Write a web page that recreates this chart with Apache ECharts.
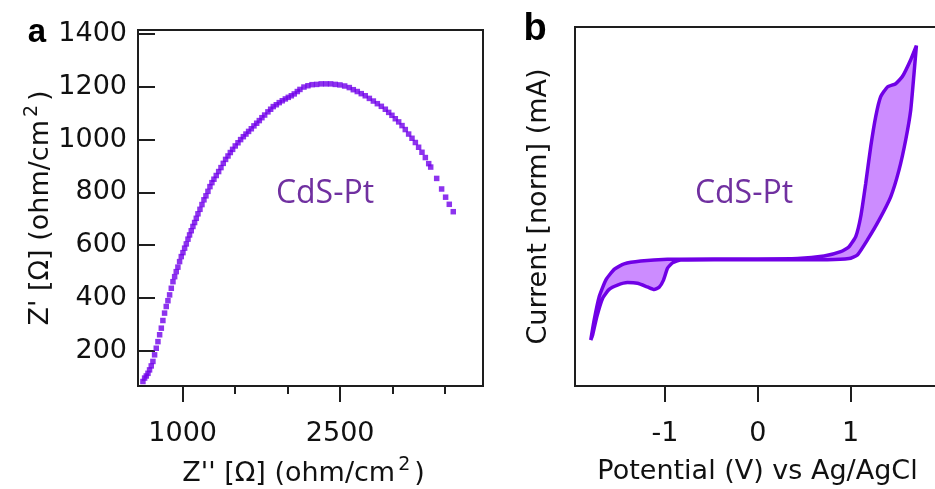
<!DOCTYPE html>
<html>
<head>
<meta charset="utf-8">
<script src="https://cdn.jsdelivr.net/npm/echarts@6/dist/echarts.min.js"></script>
<style>
html,body{margin:0;padding:0;background:#fff;}
#chart{width:935px;height:489px;}
</style>
</head>
<body>
<div id="chart"></div>
<script>
// ---------- Panel a: impedance ----------
const zDoublePrime = [622,638,654,670,685,701,717,733,749,765,781,797,812,828,844,860,876,892,908,924,939,955,971,987,1003,1019,1035,1051,1066,1082,1098,1114,1130,1146,1165,1184,1203,1222,1241,1260,1279,1298,1320,1343,1365,1387,1409,1432,1454,1476,1501,1527,1552,1578,1603,1628,1654,1679,1705,1730,1755,1781,1812,1838,1863,1892,1920,1949,1978,2006,2035,2063,2092,2117,2155,2193,2232,2276,2320,2365,2409,2454,2498,2543,2587,2625,2663,2701,2739,2778,2816,2854,2892,2930,2962,2993,3025,3057,3089,3120,3152,3184,3216,3247,3279,3311,3343,3362,3419,3466,3504,3539,3577];
const zPrime       = [84,97,105,115,128,143,160,185,210,235,261,286,315,343,368,390,412,437,462,481,500,517,538,557,572,589,605,623,639,655,671,686,702,719,736,754,772,787,804,822,837,850,864,879,894,910,925,938,951,963,976,988,1000,1011,1021,1031,1041,1052,1062,1072,1083,1093,1105,1115,1125,1132,1140,1147,1154,1160,1166,1173,1182,1190,1199,1204,1208,1209,1211,1211,1211,1209,1207,1203,1197,1189,1182,1174,1166,1156,1146,1136,1126,1115,1103,1092,1079,1067,1053,1038,1021,1005,989,971,952,932,909,896,853,813,782,755,727];
const aYTicks = [200,400,600,800,1000,1200,1400];
const aXMajorTicks = [1000,2500];
const aXMinorTicks = [1500,2000,3000,3500];

// ---------- Panel b: cyclic voltammogram ----------
const cvForwardV = [-1.800,-1.764,-1.710,-1.638,-1.548,-1.441,-1.261,-0.973,-0.471,-0.003,0.428,0.715,0.894,0.984,1.056,1.110,1.164,1.218,1.272,1.325,1.398,1.487,1.559,1.649,1.710];
const cvForwardI = [12.8,18.3,24.8,29.5,32.5,34.0,34.8,35.3,35.4,35.4,35.5,36.2,37.4,38.8,41.6,47.2,56.5,66.7,75.1,80.6,83.3,84.2,86.2,90.9,94.8];
const cvReturnV  = [1.685,1.649,1.595,1.523,1.433,1.307,1.182,1.074,0.984,0.751,0.248,-0.471,-0.830,-0.919,-0.973,-1.016,-1.063,-1.117,-1.189,-1.296,-1.404,-1.512,-1.602,-1.673,-1.735,-1.781,-1.800];
const cvReturnI  = [87.2,76.9,68.6,60.2,52.7,46.2,40.7,36.5,35.5,35.2,35.2,35.2,35.1,34.3,32.8,29.5,27.5,26.9,27.6,28.6,28.8,28.1,26.9,24.4,19.3,14.1,12.8];
const bXTicks = [-1,0,1];

const loopV = cvForwardV.concat(cvReturnV);
const loopI = cvForwardI.concat(cvReturnI);
const loopData = loopV.map((v,i)=>[v, loopI[i]]);
const impData = zDoublePrime.map((x,i)=>[x, zPrime[i]]);

const FONT = 'DejaVu Sans';
const AX = '#1e1e1e';
const TXT = '#111';
const LINE = '#7000e6';
const supRich = {s:{fontFamily:FONT, fontSize:19, color:TXT, verticalAlign:'bottom', padding:[0,4,16,3]}};
const plain = v => String(v);

const chart = echarts.init(document.getElementById('chart'), null, {renderer:'canvas'});
chart.setOption({
  animation:false,
  backgroundColor:'#fff',
  grid:[
    {left:138, top:30, width:345, height:356, outerBoundsMode:'none', containLabel:false, show:true, borderColor:AX, borderWidth:2, backgroundColor:'transparent'},
    {left:575, top:27, width:385, height:359, outerBoundsMode:'none', containLabel:false, show:true, borderColor:AX, borderWidth:2, backgroundColor:'transparent'}
  ],
  xAxis:[
    {type:'value', gridIndex:0, min:575, max:3860, position:'bottom',
     name:"Z'' [Ω] (ohm/cm{s|2})", nameLocation:'middle', nameGap:70,
     nameTextStyle:{fontFamily:FONT, fontSize:27, color:TXT, rich:supRich, padding:[0,14,0,0]},
     axisLine:{show:true, onZero:false, lineStyle:{color:AX, width:2}},
     axisTick:{show:true, inside:false, length:16, customValues:aXMajorTicks, lineStyle:{color:AX, width:2}},
     axisLabel:{show:true, customValues:aXMajorTicks, formatter:plain, margin:34, fontFamily:FONT, fontSize:27, color:TXT},
     splitLine:{show:false}},
    {type:'value', gridIndex:0, min:575, max:3860, position:'bottom',
     axisLine:{show:false, onZero:false},
     axisTick:{show:true, inside:false, length:8, customValues:aXMinorTicks, lineStyle:{color:AX, width:2}},
     axisLabel:{show:false}, splitLine:{show:false}},
    {type:'value', gridIndex:1, min:-1.97, max:2.18, position:'bottom',
     name:'Potential (V) vs Ag/AgCl', nameLocation:'middle', nameGap:72,
     nameTextStyle:{fontFamily:FONT, fontSize:27, color:TXT, padding:[0,20,0,0]},
     axisLine:{show:true, onZero:false, lineStyle:{color:AX, width:2}},
     axisTick:{show:true, inside:false, length:16, customValues:bXTicks, lineStyle:{color:AX, width:2}},
     axisLabel:{show:true, customValues:bXTicks, formatter:plain, margin:34, fontFamily:FONT, fontSize:27, color:TXT},
     splitLine:{show:false}}
  ],
  yAxis:[
    {type:'value', gridIndex:0, min:67, max:1415,
     name:"Z' [Ω] (ohm/cm{s|2})", nameLocation:'middle', nameGap:80, nameRotate:90,
     nameTextStyle:{fontFamily:FONT, fontSize:27, color:TXT, rich:supRich},
     axisLine:{show:true, onZero:false, lineStyle:{color:AX, width:2}},
     axisTick:{show:true, inside:true, length:17, customValues:aYTicks, lineStyle:{color:AX, width:2}},
     axisLabel:{show:true, customValues:aYTicks, formatter:plain, margin:11, fontFamily:FONT, fontSize:27, color:TXT},
     splitLine:{show:false}},
    {type:'value', gridIndex:1, min:0, max:100,
     name:'Current [norm] (mA)', nameLocation:'middle', nameGap:23, nameRotate:90,
     nameTextStyle:{fontFamily:FONT, fontSize:27, color:TXT},
     axisLine:{show:true, onZero:false, lineStyle:{color:AX, width:2}},
     axisTick:{show:false}, axisLabel:{show:false}, splitLine:{show:false}}
  ],
  series:[
    {type:'scatter', xAxisIndex:0, yAxisIndex:0, data:impData, symbol:'rect', symbolSize:5.5,
     itemStyle:{color:'#7000ea'}, silent:true},
    {type:'custom', xAxisIndex:2, yAxisIndex:1, data:[[loopV[0], loopI[0]]], clip:false, silent:true,
     renderItem:function(params, api){
       const pts = loopV.map((v,i)=>api.coord([v, loopI[i]]));
       return {type:'polygon', shape:{points:pts, smooth:0}, style:{fill:'#cc8cff', stroke:null}};
     }, z:1},
    {type:'line', xAxisIndex:2, yAxisIndex:1, data:loopData, showSymbol:false, smooth:0.15,
     lineStyle:{color:LINE, width:3.5}, itemStyle:{color:LINE}, silent:true, z:3}
  ],
  graphic:[
    {type:'text', x:325, y:194, style:{text:'CdS-Pt', font:'32px "Open Sans"', fill:'#7030a0', align:'center', verticalAlign:'middle'}},
    {type:'text', x:744, y:194, style:{text:'CdS-Pt', font:'32px "Open Sans"', fill:'#7030a0', align:'center', verticalAlign:'middle'}},
    {type:'text', x:37, y:33, style:{text:'a', font:'bold 33px "Liberation Sans"', fill:'#000', align:'center', verticalAlign:'middle'}},
    {type:'text', x:535, y:30, style:{text:'b', font:'bold 38px "Liberation Sans"', fill:'#000', align:'center', verticalAlign:'middle'}}
  ]
});
</script>
</body>
</html>
